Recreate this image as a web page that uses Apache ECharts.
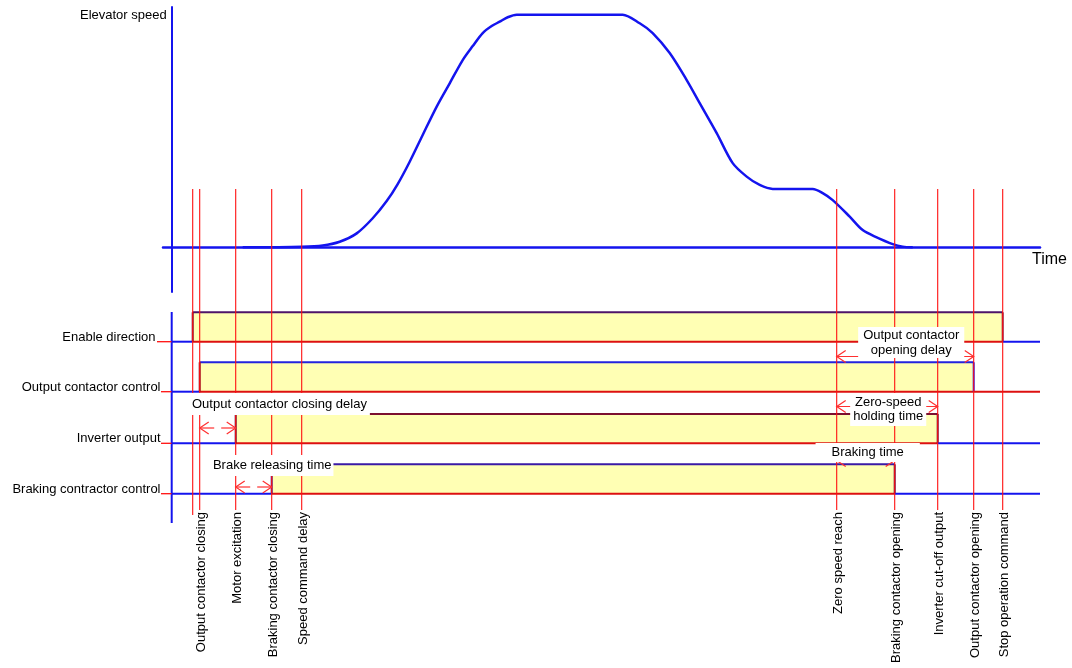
<!DOCTYPE html>
<html><head><meta charset="utf-8">
<script src="https://cdn.jsdelivr.net/npm/echarts@6/dist/echarts.min.js"></script>
<style>html,body{margin:0;padding:0;background:#fff}#c{width:1072px;height:668px}</style>
</head><body><div id="c"></div>
<script>
// ================= DATA =================
// time axis in arbitrary units (0 = start of the diagram axis), speed in % of rated speed
const speedTime  = [71,130,151,168,185,201,215,226,238,251,265,278,291,301,311,320,328,336,345,358,438,451,468,481,498,515,528,545,561,575,588,601,614,628,641,651,661,678,691,705,721,731,741];
const speedValue = [0,0.3,0.8,2.4,6.0,12.5,19.9,27.2,36.8,48.3,60.5,70.5,80.5,86.5,92.1,95.1,97.0,98.9,100,100,100,100,96.3,92.1,83.5,71.9,62.0,49.1,36.2,30.4,26.8,25.1,25.1,25.1,25.1,23.3,20.3,13.2,7.4,4.3,1.4,0.3,0];

const eventNames = ['', 'Output contactor closing', 'Motor excitation', 'Braking contactor closing', 'Speed command delay',
                    'Zero speed reach', 'Braking contactor opening', 'Inverter cut-off output', 'Output contactor opening', 'Stop operation command'];
const eventTime  = [21, 28, 64, 100, 130, 665, 723, 766, 802, 831];

const signalNames = ['Enable direction', 'Output contactor control', 'Inverter output', 'Braking contractor control'];
const signalOn    = [21, 28, 64, 100];
const signalOff   = [831, 802, 766, 723];

const intervalNames = ['Output contactor closing delay', 'Brake releasing time', 'Output contactor\nopening delay', 'Zero-speed\nholding time', 'Braking time'];
const intervalFrom  = [28, 64, 665, 665, 665];
const intervalTo    = [64, 100, 802, 766, 723];

// ================= LAYOUT / STYLE =================
const FONT = '"Liberation Sans", Arial, Helvetica, sans-serif';
const BLUE = '#1414ee', RED = '#ff1010', RED_EDGE = '#dd1010', YELLOW = '#ffffb4', ARROW = '#ff3030';
const T_MIN = -8.7, T_MAX = 868.3;          // speed-axis time extent
const AXIS_PX = 171.7;                       // pixel of time 0 in layout grid
const ROW_BASE = [341.7, 391.7, 443.3, 493.7], ROW_H = 29.4;
const STUB_LEFT = [157, 161, 161, 161], LABEL_RIGHT = [155.5, 160.5, 160.5, 160.5];
const TOP_EDGE  = ['#4e1468', '#2323dd', '#7c1030', '#3a1aa6'];
const RISE_EDGE = ['#6a1040', '#8a1024', '#5a1040', '#4a1a90'];
const FALL_EDGE = ['#7a1a4a', '#1a1aff', '#600a3a', '#5a0a48'];
const AFTER     = [BLUE, RED_EDGE, BLUE, BLUE];
const EVENT_TOP = 189, EVENT_BOTTOM = 510, EVENT_BOTTOM_BARE = 515, EVENT_LABEL_Y = 512, EVENT_LABEL_DX = 1.5;
const LOWER_AXIS = [312, 523];
const ANNO = [
  {y:428,   dashed:true,  align:'left',   ref:'axis', dx:1.3,  ty:404,   pad:[3.5,3,3.5,19], lh:15},
  {y:487,   dashed:true,  align:'center', ref:'to',   dx:-1,   ty:465.5, pad:[3,2,3,5],      lh:15},
  {y:356.5, dashed:false, align:'center', ref:'mid',  dx:6,    ty:342.5, pad:[0.5,5,0.5,5],  lh:15},
  {y:406.5, dashed:false, align:'center', ref:'mid',  dx:1,    ty:409.5, pad:[2,3,2,3],      lh:14.5},
  {y:460.5, dashed:false, align:'center', ref:'mid',  dx:2,    ty:452.5, pad:[2,16,2,16],    lh:15}
];

const ln = (x1,y1,x2,y2,c,w,dash)=>({type:'line', shape:{x1,y1,x2,y2}, style:{stroke:c, lineWidth:w, lineDash:dash||null}});
const txt = (o)=>Object.assign({fontSize:13, fontFamily:FONT, fill:'#000'}, o);

const chart = echarts.init(document.getElementById('c'));
const option = {
  animation:false,
  backgroundColor:'#fff',
  grid:[
    {left:163, right:32, top:7, bottom:376, outerBoundsMode:'none', containLabel:false},
    {left:0, right:0, top:0, bottom:0, outerBoundsMode:'none', containLabel:false}
  ],
  xAxis:[
    {type:'value', gridIndex:0, min:T_MIN, max:T_MAX,
     axisLine:{show:true, onZero:true, lineStyle:{color:BLUE, width:2.5}},
     axisTick:{show:false}, axisLabel:{show:false}, splitLine:{show:false},
     name:'Time', nameLocation:'end', nameGap:-8,
     nameTextStyle:{fontSize:16, fontFamily:FONT, color:'#000', align:'left', verticalAlign:'top', padding:[4,0,0,0]}},
    {type:'value', gridIndex:1, min:-AXIS_PX, max:1072-AXIS_PX, show:false}
  ],
  yAxis:[
    {type:'value', gridIndex:0, min:-19.2, max:103.3,
     axisLine:{show:true, onZero:true, lineStyle:{color:BLUE, width:2}},
     axisTick:{show:false}, axisLabel:{show:false}, splitLine:{show:false},
     name:'Elevator speed', nameLocation:'end', nameGap:-8,
     nameTextStyle:{fontSize:13, fontFamily:FONT, color:'#000', align:'right', verticalAlign:'middle', padding:[0,5,0,0]}},
    {type:'value', gridIndex:1, min:0, max:668, inverse:true, show:false}
  ],
  series:[
    // lower vertical axis of the timing part
    {type:'custom', xAxisIndex:1, yAxisIndex:1, silent:true, z:2, data:[[0,0]],
     renderItem:(p, api)=>{
       const a = api.coord([0, LOWER_AXIS[0]]), b = api.coord([0, LOWER_AXIS[1]]);
       return ln(a[0], a[1], b[0], b[1], BLUE, 2);
     }},
    // signals
    {type:'custom', xAxisIndex:1, yAxisIndex:1, silent:true, z:2,
     data: signalOn.map((t,i)=>[t, signalOff[i]]),
     renderItem:(p, api)=>{
       const i = p.dataIndex, on = api.value(0), off = api.value(1);
       const base = ROW_BASE[i], high = base - ROW_H;
       const [xOn, yB] = api.coord([on, base]);
       const [xOff, yH] = api.coord([off, high]);
       const [xAx] = api.coord([0, base]);
       const [xEnd] = api.coord([T_MAX, base]);
       return {type:'group', children:[
         ln(STUB_LEFT[i], yB, xAx, yB, RED, 1.3),
         {type:'rect', shape:{x:xOn, y:yH, width:xOff-xOn, height:yB-yH}, style:{fill:YELLOW}},
         ln(xAx, yB, xOn, yB, BLUE, 2),
         ln(xOn, yB, xOff, yB, RED_EDGE, 2),
         ln(xOn, yH, xOff, yH, TOP_EDGE[i], 2),
         ln(xOn, yB, xOn, yH, RISE_EDGE[i], 2),
         ln(xOff, yH, xOff, yB, FALL_EDGE[i], 2),
         ln(xOff, yB, xEnd, yB, AFTER[i], 2),
         {type:'text', x:LABEL_RIGHT[i], y:yB-4.5, style:txt({text:signalNames[i], align:'right', verticalAlign:'middle'})}
       ]};
     }},
    // elevator speed curve
    {type:'line', name:'Elevator speed', xAxisIndex:0, yAxisIndex:0, silent:true, z:3,
     data: speedTime.map((t,i)=>[t, speedValue[i]]),
     symbol:'none', showSymbol:false, smooth:0.3,
     lineStyle:{color:BLUE, width:2.5}},
    // event lines and labels
    {type:'custom', xAxisIndex:1, yAxisIndex:1, silent:true, z:4,
     data: eventTime.map(t=>[t, 0]),
     renderItem:(p, api)=>{
       const i = p.dataIndex, t = api.value(0);
       const [x, y1] = api.coord([t, EVENT_TOP]);
       const [, y2] = api.coord([t, eventNames[i] ? EVENT_BOTTOM : EVENT_BOTTOM_BARE]);
       const ch = [ln(x, y1, x, y2, RED, 1.1)];
       if (eventNames[i]) ch.push({type:'text', x:x+EVENT_LABEL_DX, y:EVENT_LABEL_Y, rotation:Math.PI/2,
         style:txt({text:eventNames[i], align:'right', verticalAlign:'middle'})});
       return {type:'group', children:ch};
     }},
    // interval annotations
    {type:'custom', xAxisIndex:1, yAxisIndex:1, silent:true, z:5,
     data: intervalFrom.map((t,i)=>[t, intervalTo[i]]),
     renderItem:(p, api)=>{
       const i = p.dataIndex, a = ANNO[i];
       const [x1, y] = api.coord([api.value(0), a.y]);
       const [x2] = api.coord([api.value(1), a.y]);
       const L = 9, H = 6, ch = [];
       if (a.dashed) {
         const m = (x1 + x2) / 2;
         ch.push(ln(x1, y, m - 3.5, y, ARROW, 1.2), ln(m + 3.5, y, x2, y, ARROW, 1.2));
       } else ch.push(ln(x1, y, x2, y, ARROW, 1.2));
       ch.push({type:'polyline', shape:{points:[[x1+L, y-H],[x1, y],[x1+L, y+H]]}, style:{stroke:ARROW, lineWidth:1.2, fill:null}});
       ch.push({type:'polyline', shape:{points:[[x2-L, y-H],[x2, y],[x2-L, y+H]]}, style:{stroke:ARROW, lineWidth:1.2, fill:null}});
       let tx;
       if (a.ref === 'axis') tx = api.coord([0, a.ty])[0];
       else if (a.ref === 'to') tx = x2;
       else tx = (x1 + x2) / 2;
       ch.push({type:'text', x:tx + a.dx, y:a.ty,
         style:txt({text:intervalNames[i], align:a.align, verticalAlign:'middle', backgroundColor:'#fff', padding:a.pad, lineHeight:a.lh})});
       return {type:'group', children:ch};
     }}
  ]
};
chart.setOption(option);
</script>
</body></html>
